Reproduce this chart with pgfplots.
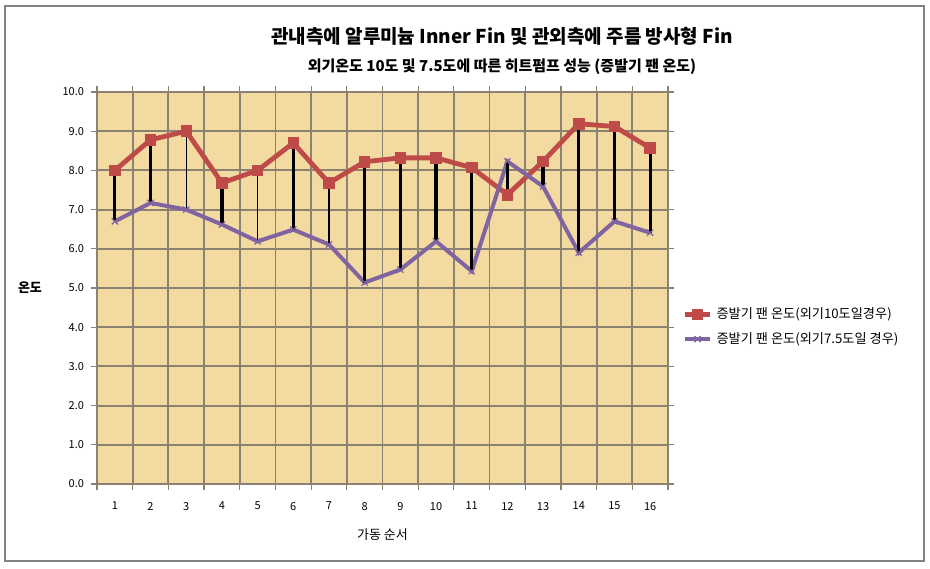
\documentclass[border=0pt]{standalone}
\usepackage{fontspec}
\setmainfont{Noto Sans CJK KR}
\usepackage{pgfplots}
\pgfplotsset{compat=1.18}
\usepackage{pgfplotstable}
\definecolor{bgtan}{RGB}{243,218,160}
\definecolor{gridgray}{RGB}{140,130,115}
\definecolor{serred}{RGB}{190,75,72}
\definecolor{serpurple}{RGB}{128,100,162}
\definecolor{framegray}{RGB}{130,130,130}

\pgfplotstableread{
x hi lo
1 8.0 6.7
2 8.78 7.17
3 9.0 7.0
4 7.68 6.62
5 8.0 6.19
6 8.7 6.49
7 7.68 6.11
8 8.22 5.14
9 8.32 5.47
10 8.32 6.19
11 8.07 5.43
12 7.38 8.23
13 8.23 7.59
14 9.19 5.9
15 9.12 6.7
16 8.57 6.41
}\data

\pgfplotstableread{
x hi lo
1 8.0 6.7
2 8.78 7.17
4 7.68 6.62
6 8.7 6.49
8 8.22 5.14
9 8.32 5.47
10 8.32 6.19
11 8.07 5.43
12 7.38 8.23
13 8.23 7.59
14 9.19 5.9
15 9.12 6.7
16 8.57 6.41
}\thick

\pgfplotstableread{
x hi lo
3 9.0 7.0
5 8.0 6.19
7 7.68 6.11
}\thin

\begin{document}
\begin{tikzpicture}
\useasboundingbox (-48.5pt,-42pt) rectangle (416.5pt,242pt);
\draw[framegray, line width=1pt] (-46pt,-38.5pt) rectangle (413.5pt,239pt);
\begin{axis}[
  scale only axis,
  width=285.5pt, height=196pt,
  xmin=0.5, xmax=16.5, ymin=0, ymax=10,
  xtick={1,...,16},
  minor xtick={0.5,1.5,...,16.5},
  ytick={0,1,...,10},
  yticklabel style={/pgf/number format/fixed, /pgf/number format/fixed zerofill, /pgf/number format/precision=1},
  /pgf/number format/assume math mode=true,
  ticklabel style={font=\fontsize{5.5}{6}\selectfont},
  xticklabel style={yshift=-2.5pt},
  yticklabel style={xshift=0pt},
  xmajorgrids=false,
  xminorgrids=true,
  ymajorgrids=true,
  major x tick style={draw=none},
  minor x tick style={draw=gridgray, line width=0.6pt},
  major y tick style={draw=gridgray, line width=0.6pt},
  tick align=outside,
  major tick length=3pt, minor tick length=3pt,
  every major grid/.style={draw=gridgray, line width=1pt},
  every minor grid/.style={draw=gridgray, line width=0.9pt},
  axis line style={draw=gridgray, line width=1pt},
  axis background/.style={fill=bgtan},
  xlabel={가동 순서},
  ylabel={온도},
  every axis x label/.style={at={(rel axis cs:0.5,0)}, anchor=center, yshift=-25.5pt, font=\fontsize{6.5}{7}\selectfont},
  every axis y label/.style={at={(rel axis cs:0,0.5)}, anchor=center, xshift=-33.5pt, font=\bfseries\fontsize{6.5}{7}\selectfont},
  legend style={at={(rel axis cs:1.025,0.462)}, anchor=north west, draw=none, fill=none,
    font=\fontsize{6.6}{7}\selectfont, row sep=1.5pt, inner sep=0pt},
  legend cell align=left,
  legend image code/.code={\draw[mark repeat=2,mark phase=2,#1] plot coordinates {(0cm,0cm) (0.22cm,0cm) (0.44cm,0cm)};},
]
\addplot[serred, line width=2.4pt, mark=square*, mark size=2.6pt, mark options={line width=0.5pt}] table[x=x,y=hi]{\data};
\addlegendentry{증발기 팬 온도(외기10도일경우)}
\addplot[serpurple, line width=2pt, mark=x, mark size=2.2pt, mark options={line width=0.6pt}] table[x=x,y=lo]{\data};
\addlegendentry{증발기 팬 온도(외기7.5도일 경우)}
\addplot[draw=none, forget plot, error bars/.cd, y dir=plus, y explicit,
  error mark=none, error bar style={black, line width=1.6pt}]
  table[x=x, y=lo, y error expr=\thisrow{hi}-\thisrow{lo}]{\thick};
\addplot[draw=none, forget plot, error bars/.cd, y dir=plus, y explicit,
  error mark=none, error bar style={black, line width=0.6pt}]
  table[x=x, y=lo, y error expr=\thisrow{hi}-\thisrow{lo}]{\thin};
\addplot[forget plot, only marks, serred, mark=square*, mark size=2.6pt] table[x=x,y=hi]{\data};
\end{axis}
\node[font=\bfseries\fontsize{9.5}{11}\selectfont] at (202.5pt,224pt) {관내측에 알루미늄 Inner Fin 및 관외측에 주름 방사형 Fin};
\node[font=\bfseries\fontsize{7.5}{9}\selectfont] at (202.5pt,208.5pt) {외기온도 10도 및 7.5도에 따른 히트펌프 성능 (증발기 팬 온도)};
\end{tikzpicture}
\end{document}
